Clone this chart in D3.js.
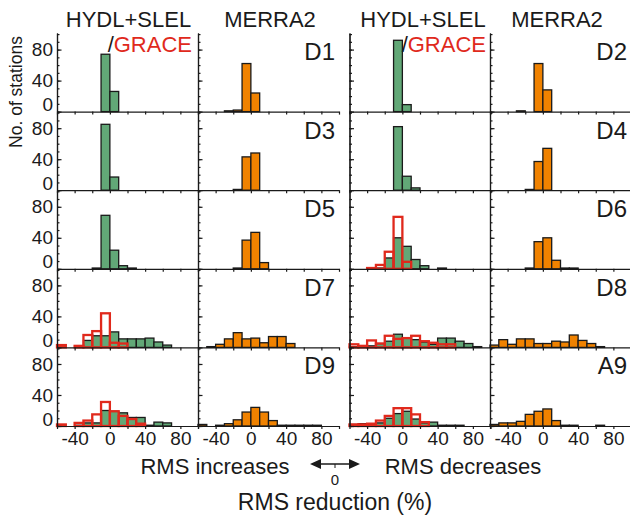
<!DOCTYPE html>
<html>
<head>
<meta charset="utf-8">
<script src="https://cdn.jsdelivr.net/npm/d3@7"></script>
<style>
body { margin: 0; background: #fff; }
svg { display: block; font-family: "Liberation Sans", Arial, sans-serif; }
.axis path, .axis line { stroke: #1a1a1a; stroke-width: 1.2; }
.axis text { fill: #1a1a1a; font-size: 19px; font-family: "Liberation Sans", Arial, sans-serif; }
</style>
</head>
<body>
<svg id="board" width="630" height="515"></svg>
<script>
// histogram bins, 10% wide, from -60 to 100
var binStarts = [-60, -50, -40, -30, -20, -10, 0, 10, 20, 30, 40, 50, 60, 70, 80, 90];

var panelLabels = ['D1', 'D2', 'D3', 'D4', 'D5', 'D6', 'D7', 'D8', 'D9', 'A9'];

// station counts per bin
var d1Hydl  = [0, 0, 0, 0, 0, 74, 26, 0, 0, 0, 0, 0, 0, 0, 0, 0];
var d1Merra = [0, 0, 0, 1, 2, 62, 24, 0, 0, 0, 0, 0, 0, 0, 0, 0];
var d2Hydl  = [0, 0, 0, 0, 0, 92, 9, 0, 0, 0, 0, 0, 0, 0, 0, 0];
var d2Merra = [0, 0, 0, 1, 0, 62, 28, 0, 0, 0, 0, 0, 0, 0, 0, 0];
var d3Hydl  = [0, 0, 0, 0, 0, 85, 17, 0, 0, 0, 0, 0, 0, 0, 0, 0];
var d3Merra = [0, 0, 0, 0, 1, 43, 48, 0, 0, 0, 0, 0, 0, 0, 0, 0];
var d4Hydl  = [0, 0, 0, 0, 0, 82, 18, 3, 0, 0, 0, 0, 0, 0, 0, 0];
var d4Merra = [0, 0, 0, 0, 1, 37, 54, 0, 0, 0, 0, 0, 0, 0, 0, 0];
var d5Hydl  = [0, 0, 0, 0, 1, 69, 24, 4, 1, 0, 0, 0, 0, 0, 0, 0];
var d5Merra = [0, 0, 0, 0, 1, 37, 47, 8, 0, 0, 0, 0, 0, 0, 0, 0];
var d6Hydl  = [0, 0, 0, 1, 14, 40, 29, 12, 4, 0, 1, 0, 0, 0, 0, 0];
var d6Grace = [0, 0, 1, 5, 22, 67, 9, 0, 0, 0, 0, 0, 0, 0, 0, 0];
var d6Merra = [0, 0, 0, 0, 1, 35, 40, 11, 1, 1, 0, 0, 0, 0, 0, 0];
var d7Hydl  = [0, 0, 1, 9, 15, 15, 20, 11, 11, 11, 12, 7, 3, 0, 0, 0];
var d7Grace = [3, 0, 2, 16, 21, 44, 6, 5, 0, 0, 0, 0, 0, 0, 0, 0];
var d7Merra = [0, 1, 4, 11, 19, 11, 12, 6, 14, 14, 5, 0, 0, 0, 0, 0];
var d8Hydl  = [1, 2, 2, 5, 8, 17, 12, 10, 7, 4, 12, 12, 8, 5, 1, 0];
var d8Grace = [4, 2, 9, 5, 15, 11, 12, 15, 8, 6, 4, 4, 0, 0, 0, 0];
var d8Merra = [3, 10, 4, 11, 11, 5, 5, 8, 7, 16, 9, 5, 1, 0, 0, 0];
var d9Hydl  = [0, 0, 1, 4, 4, 20, 19, 17, 11, 11, 1, 5, 4, 0, 0, 0];
var d9Grace = [2, 0, 4, 7, 15, 31, 19, 13, 9, 3, 0, 0, 0, 0, 0, 0];
var d9Merra = [2, 0, 1, 3, 8, 18, 24, 18, 7, 1, 1, 1, 1, 1, 0, 0];
var a9Hydl  = [2, 3, 2, 4, 10, 16, 19, 9, 4, 5, 1, 1, 1, 0, 0, 0];
var a9Grace = [2, 2, 3, 7, 13, 23, 23, 15, 5, 0, 0, 0, 0, 0, 0, 0];
var a9Merra = [2, 4, 4, 6, 15, 19, 22, 7, 1, 1, 0, 0, 1, 0, 0, 0];

var hydlSeries = [d1Hydl, d2Hydl, d3Hydl, d4Hydl, d5Hydl, d6Hydl, d7Hydl, d8Hydl, d9Hydl, a9Hydl];
var graceSeries = [null, null, null, null, null, d6Grace, d7Grace, d8Grace, d9Grace, a9Grace];
var merraSeries = [d1Merra, d2Merra, d3Merra, d4Merra, d5Merra, d6Merra, d7Merra, d8Merra, d9Merra, a9Merra];

var colLefts = [57, 198, 349.5, 490];
var panelWidth = 141;
var firstRowTop = 33;
var panelHeight = 78.6;
var binWidth = 10;

var green = '#62a877';
var orange = '#f08200';
var red = '#e0291c';
var ink = '#1a1a1a';

var x = d3.scaleLinear().domain([-60, 100]).range([0, panelWidth]);
var y = d3.scaleLinear().domain([0, 101.4]).range([panelHeight, 0]);

var svg = d3.select('#board');

panelLabels.forEach(drawPair);
drawTitles();

function drawPair(label, i) {
  var row = Math.floor(i / 2);
  var pair = i % 2;
  var top = firstRowTop + row * panelHeight;

  var hydlPanel = makePanel(colLefts[pair * 2], top, row, pair * 2);
  drawBars(hydlPanel, hydlSeries[i], green);
  if (graceSeries[i]) {
    drawOutline(hydlPanel, graceSeries[i]);
  }

  var merraPanel = makePanel(colLefts[pair * 2 + 1], top, row, pair * 2 + 1);
  drawBars(merraPanel, merraSeries[i], orange);

  merraPanel.append('text')
    .attr('x', panelWidth - 4)
    .attr('y', 27)
    .attr('text-anchor', 'end')
    .attr('font-size', 24)
    .attr('fill', ink)
    .text(label);
}

function makePanel(left, top, row, col) {
  var g = svg.append('g').attr('transform', 'translate(' + left + ',' + top + ')');

  var xAxis = d3.axisBottom(x)
    .tickValues(d3.range(-60, 101, 20))
    .tickSizeInner(3)
    .tickSizeOuter(0)
    .tickPadding(3)
    .tickFormat(function(d) { return (row === 4 && d % 40 === 0) ? String(d) : ''; });

  var yMinor = d3.axisLeft(y)
    .tickValues(d3.range(0, 101, 10))
    .tickSizeInner(-2.5)
    .tickSizeOuter(0)
    .tickFormat('');

  var yMajor = d3.axisLeft(y)
    .tickValues([0, 40, 80])
    .tickSizeInner(-4.5)
    .tickSizeOuter(0)
    .tickPadding(4)
    .tickFormat(function(d) { return col === 0 ? String(d) : ''; });

  g.append('g').attr('class', 'bars');

  g.append('g').attr('class', 'axis')
    .attr('transform', 'translate(0,' + panelHeight + ')')
    .call(xAxis);
  g.append('g').attr('class', 'axis').call(yMinor);
  var major = g.append('g').attr('class', 'axis').call(yMajor);
  major.selectAll('.tick text')
    .filter(function(d) { return d === 0; })
    .attr('dy', '-0.05em');

  return g;
}

function binData(counts) {
  return binStarts
    .map(function(start, k) { return {start: start, count: counts[k]}; })
    .filter(function(b) { return b.count > 0; });
}

function drawBars(panel, counts, fill) {
  panel.select('.bars').selectAll('rect.fill-bar')
    .data(binData(counts))
    .enter().append('rect')
    .classed('fill-bar', true)
    .attr('x', function(b) { return x(b.start); })
    .attr('width', function(b) { return x(b.start + binWidth) - x(b.start); })
    .attr('y', function(b) { return y(b.count); })
    .attr('height', function(b) { return y(0) - y(b.count); })
    .attr('fill', fill)
    .attr('stroke', ink)
    .attr('stroke-width', 1.3);
}

function drawOutline(panel, counts) {
  panel.select('.bars').selectAll('rect.grace-bar')
    .data(binData(counts))
    .enter().append('rect')
    .classed('grace-bar', true)
    .attr('x', function(b) { return x(b.start); })
    .attr('width', function(b) { return x(b.start + binWidth) - x(b.start); })
    .attr('y', function(b) { return y(b.count); })
    .attr('height', function(b) { return y(0) - y(b.count); })
    .attr('fill', 'none')
    .attr('stroke', red)
    .attr('stroke-width', 2.3);
}

function drawTitles() {
  var heads = [
    {text: 'HYDL+SLEL', x: 128.5},
    {text: 'MERRA2', x: 270},
    {text: 'HYDL+SLEL', x: 423},
    {text: 'MERRA2', x: 557}
  ];
  svg.selectAll('text.head')
    .data(heads)
    .enter().append('text')
    .classed('head', true)
    .attr('x', function(d) { return d.x; })
    .attr('y', 27)
    .attr('text-anchor', 'middle')
    .attr('font-size', 22)
    .attr('fill', ink)
    .text(function(d) { return d.text; });

  [192, 486].forEach(function(right) {
    var t = svg.append('text')
      .attr('x', right)
      .attr('y', 51.5)
      .attr('text-anchor', 'end')
      .attr('font-size', 22);
    t.append('tspan').attr('fill', ink).text('/');
    t.append('tspan').attr('fill', red).text('GRACE');
  });

  svg.append('text')
    .attr('transform', 'translate(22,92) rotate(-90)')
    .attr('text-anchor', 'middle')
    .attr('font-size', 17.5)
    .attr('fill', ink)
    .text('No. of stations');

  svg.append('text')
    .attr('x', 215).attr('y', 474)
    .attr('text-anchor', 'middle')
    .attr('font-size', 22)
    .attr('fill', ink)
    .text('RMS increases');

  svg.append('text')
    .attr('x', 463).attr('y', 474)
    .attr('text-anchor', 'middle')
    .attr('font-size', 22)
    .attr('fill', ink)
    .text('RMS decreases');

  svg.append('text')
    .attr('x', 335).attr('y', 510)
    .attr('text-anchor', 'middle')
    .attr('font-size', 23)
    .attr('fill', ink)
    .text('RMS reduction (%)');

  // double arrow with a zero mark
  var arrow = svg.append('g').attr('transform', 'translate(335,464)');
  arrow.append('line')
    .attr('x1', -17).attr('x2', 17)
    .attr('stroke', ink).attr('stroke-width', 1.3);
  arrow.append('path')
    .attr('d', 'M-25,0 L-14,-5 L-14,5 Z M25,0 L14,-5 L14,5 Z')
    .attr('fill', ink);
  arrow.append('line')
    .attr('y1', 0).attr('y2', 4)
    .attr('stroke', ink).attr('stroke-width', 1);
  arrow.append('text')
    .attr('y', 21)
    .attr('text-anchor', 'middle')
    .attr('font-size', 15)
    .attr('fill', ink)
    .text('0');
}
</script>
</body>
</html>
